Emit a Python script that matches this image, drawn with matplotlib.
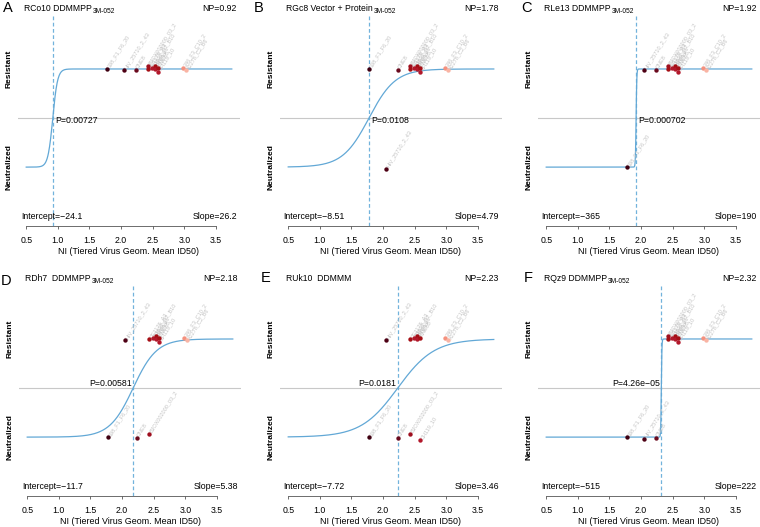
import numpy as np
import matplotlib.pyplot as plt

plt.rcParams['font.family'] = ['Liberation Sans', 'DejaVu Sans']

# viruses of the panel: name, NI (tiered virus geom. mean ID50), small y jitter, colour
virus_names = ['398_F1_F6_20', 'HIV_25710_2_43', 'CNE8', 'BJOX002000_03_2',
               'CE1176_A3', 'X1632_S2_B10', 'TRO_11', 'CE0217', 'CNE55',
               'CH119_10', '246_F3_C10_2', 'X2278_C2_B6']
virus_ni = [1.78, 2.04, 2.24, 2.43, 2.43, 2.49, 2.54, 2.54, 2.58, 2.59, 2.98, 3.03]
virus_jit = [0.0, -0.015, -0.01, 0.035, -0.005, 0.01, 0.035, -0.005, 0.01, -0.03, 0.01, -0.015]
virus_col = ['#3f0011', '#4d0014', '#6a0a1e', '#9e0f1f', '#a50f15', '#b2182b',
             '#a50f15', '#b2182b', '#a50f15', '#b2182b', '#f4917e', '#f9b4a4']

# one panel per animal
letters = ['A', 'B', 'C', 'D', 'E', 'F']
animals = ['RCo10 ', 'RGc8 ', 'RLe13 ', 'RDh7  ', 'RUk10  ', 'RQz9 ']
groups = ['DDMMPP', 'Vector + Protein', 'DDMMPP', 'DDMMPP', 'DDMMM', 'DDMMPP']
adjuvants = ['3M-052', '3M-052', '3M-052', '3M-052', '', '3M-052']
intercepts = [-24.1, -8.51, -365, -11.7, -7.72, -515]
slopes = [26.2, 4.79, 190, 5.38, 3.46, 222]
np_vals = [0.92, 1.78, 1.92, 2.18, 2.23, 2.32]
p_vals = ['0.00727', '0.0108', '0.000702', '0.00581', '0.0181', '4.26e\u221205']
# 1 = resistant, 0 = neutralized
outcomes = [
    [1, 1, 1, 1, 1, 1, 1, 1, 1, 1, 1, 1],
    [1, 0, 1, 1, 1, 1, 1, 1, 1, 1, 1, 1],
    [0, 1, 1, 1, 1, 1, 1, 1, 1, 1, 1, 1],
    [0, 1, 0, 0, 1, 1, 1, 1, 1, 1, 1, 1],
    [0, 1, 0, 0, 1, 1, 1, 1, 1, 0, 1, 1],
    [0, 0, 0, 1, 1, 1, 1, 1, 1, 1, 1, 1],
]
xticks = [0.5, 1.0, 1.5, 2.0, 2.5, 3.0, 3.5]

curve_col = '#62a8d6'
dash_col = '#72b3dc'

fig = plt.figure(figsize=(7.6, 5.27), dpi=100)
renderer = fig.canvas.get_renderer()
W, H = 760.0, 527.0
lefts = [18, 280, 538, 19, 280, 538]
tops = [15, 15, 15, 285, 285, 285]
letter_x = [2, 253, 521, 0, 260, 523]
letter_base = [11.7, 11.7, 11.7, 285, 282, 282]

for i in range(6):
    top = tops[i]
    ax = fig.add_axes([lefts[i] / W, 1 - (top + 211) / H, 222 / W, 211 / H])
    ax.set_xlim(0.37, 3.88)
    ax.set_ylim(-0.6, 1.55)

    ax.axhline(0.5, color='#c8c8c8', lw=0.8, zorder=1)
    ax.axvline(np_vals[i], color=dash_col, lw=0.9, ls=(0, (3, 2)), zorder=1)

    xs = np.linspace(0.5, 3.75, 600)
    ys = 1 / (1 + np.exp(-(intercepts[i] + slopes[i] * xs)))
    ax.plot(xs, ys, color=curve_col, lw=0.9, zorder=2)

    for name, x, j, c, o in zip(virus_names, virus_ni, virus_jit, virus_col, outcomes[i]):
        y = o + j
        ax.scatter([x], [y], s=10, color=c, zorder=3, linewidths=0)
        ax.annotate(name, (x, y), xytext=(1.2, 1.2), textcoords='offset points',
                    rotation=58, rotation_mode='anchor', ha='left', va='center',
                    fontsize=4, color='#c4c4c4', zorder=2)

    # P value next to the threshold
    if i < 3:
        ax.text(np_vals[i] + 0.04, 0.47, 'P=' + p_vals[i], ha='left', va='center', fontsize=6.3)
    else:
        ax.text(np_vals[i] - 0.02, 0.55, 'P=' + p_vals[i], ha='right', va='center', fontsize=6.3)

    ax.text(0.42, -0.5, 'Intercept=' + ('%g' % intercepts[i]).replace('-', '\u2212'),
            ha='left', va='center', fontsize=6.3)
    ax.text(3.83, -0.5, 'Slope=%g' % slopes[i], ha='right', va='center', fontsize=6.3)

    # title (with adjuvant as subscript) and NP above the plot
    t = ax.text(0.46, 1.02, animals[i] + groups[i], transform=ax.get_xaxis_transform(),
                ha='left', va='baseline', fontsize=6.2)
    if adjuvants[i]:
        bb = t.get_window_extent(renderer)
        fig.text((bb.x1 + 1) / W, bb.y0 / H, adjuvants[i], ha='left', va='baseline',
                 fontsize=4.8)
    ax.text(3.83, 1.02, 'NP=%.2f' % np_vals[i], transform=ax.get_xaxis_transform(),
            ha='right', va='baseline', fontsize=6.3)
    fig.text((letter_x[i] + 0.5) / W, 1 - letter_base[i] / H, letters[i], ha='left',
             va='baseline', fontsize=10.5)

    for s in ['top', 'right', 'left']:
        ax.spines[s].set_visible(False)
    ax.spines['bottom'].set_bounds(0.5, 3.5)
    ax.spines['bottom'].set_color('#555555')
    ax.spines['bottom'].set_linewidth(0.6)
    ax.set_xticks(xticks)
    ax.set_xticklabels(['%.1f' % t for t in xticks])
    ax.tick_params(axis='x', length=2.5, width=0.6, color='#555555', labelsize=6.3, pad=5)
    ax.set_yticks([0, 1])
    ax.set_yticklabels(['Neutralized', 'Resistant'], rotation=90, va='center',
                       fontweight='bold', fontsize=6)
    ax.tick_params(axis='y', length=0, pad=4)
    ax.set_xlabel('NI (Tiered Virus Geom. Mean ID50)', fontsize=6.4, labelpad=1.5)

fig.savefig('out.png', dpi=100)
